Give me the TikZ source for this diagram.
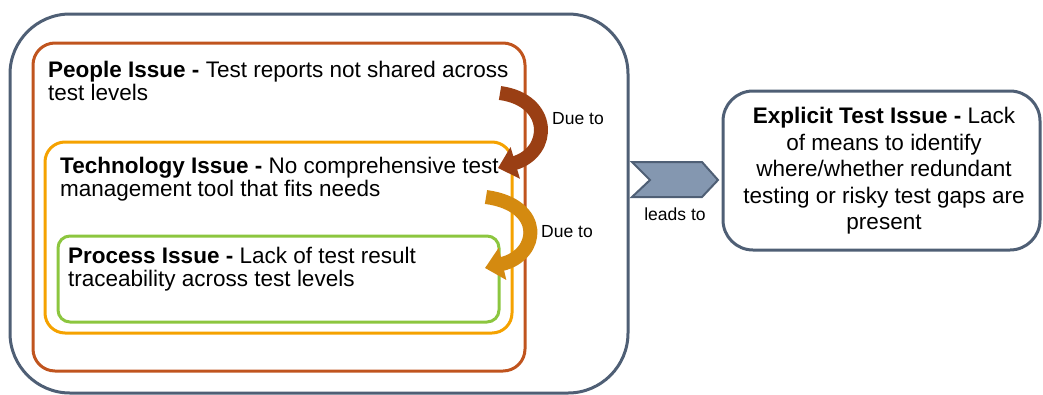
\documentclass[tikz,border=0pt]{standalone}
\usepackage{fontspec}
\setmainfont{Liberation Sans}
\usetikzlibrary{arrows.meta}

\definecolor{slate}{HTML}{4F5F75}
\definecolor{peoplec}{HTML}{C0541E}
\definecolor{techc}{HTML}{F5A200}
\definecolor{procc}{HTML}{8CC63F}
\definecolor{arrowone}{HTML}{9A3F14}
\definecolor{arrowtwo}{HTML}{D48A10}
\definecolor{chevfill}{HTML}{8497B0}

\tikzset{
  issuebox/.style={line width=3pt, rounded corners=#1},
  issuetext/.style={align=left, anchor=north west, inner sep=0pt,
    font=\fontsize{22.5}{23}\selectfont},
  smalllabel/.style={font=\fontsize{17.5}{19}\selectfont, inner sep=0pt},
  dueto/.style={line width=14pt, draw=#1,
    -{Triangle[length=18pt, width=32pt]}},
}

\begin{document}
\begin{tikzpicture}[x=1pt, y=-1pt]
\useasboundingbox (0,0) rectangle (1043,394);

% nested issue boxes
\draw[issuebox=60pt, draw=slate] (10,14) rectangle (628,393);
\draw[issuebox=22pt, draw=peoplec] (33,43) rectangle (525,371);
\draw[issuebox=20pt, draw=techc] (45,142) rectangle (512,333);
\draw[issuebox=12pt, draw=procc] (58,236) rectangle (499,322);

\node[issuetext] (people) at (48,61)
  {\textbf{People Issue -} Test reports not shared across\\test levels};
\node[issuetext] (tech) at (60,157)
  {\textbf{Technology Issue -} No comprehensive test\\management tool that fits needs};
\node[issuetext] (proc) at (68,247)
  {\textbf{Process Issue -} Lack of test result\\traceability across test levels};

% curved "due to" arrows
\coordinate (a1s) at (500,93);
\coordinate (a1e) at (498,168);
\coordinate (a2s) at (486,197);
\coordinate (a2e) at (485,268);
\draw[dueto=arrowone] (a1s) .. controls (552,100) and (552,152) .. (a1e);
\draw[dueto=arrowtwo] (a2s) .. controls (545,205) and (540,255) .. (a2e);
\node[smalllabel] (due1) at (578,119) {Due to};
\node[smalllabel] (due2) at (567,232) {Due to};

% chevron
\draw[line width=2pt, draw=slate, fill=chevfill, line join=miter]
  (632,162) -- (702,162) -- (718,180) -- (702,197) -- (632,197) -- (650,180) -- cycle;
\node[smalllabel] (leads) at (675,214) {leads to};

% explicit issue
\draw[issuebox=30pt, draw=slate] (723,91) rectangle (1040,250);
\node[align=center, inner sep=0pt, font=\fontsize{22.5}{26.5}\selectfont] (explicit) at (884,171)
  {\textbf{Explicit Test Issue -} Lack\\of means to identify\\where/whether redundant\\testing or risky test gaps are\\present};
\end{tikzpicture}
\end{document}
